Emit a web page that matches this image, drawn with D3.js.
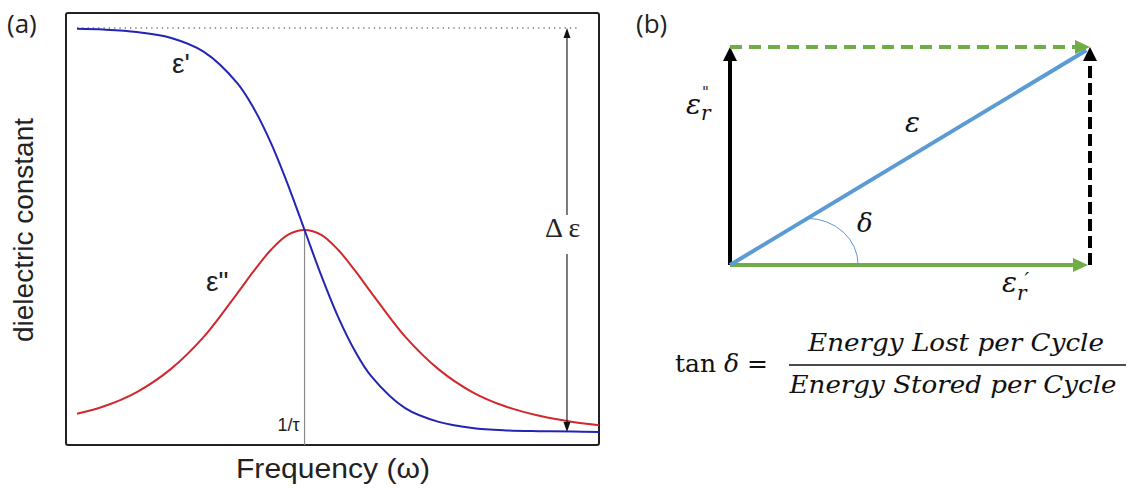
<!DOCTYPE html>
<html>
<head>
<meta charset="utf-8">
<script src="https://cdn.jsdelivr.net/npm/d3@7"></script>
<style>
  body { margin: 0; background: #fff; }
  svg { display: block; }
</style>
</head>
<body>
<div id="chart"></div>
<script>
// Panel (a): Debye relaxation
// x = log10(omega * tau), y = normalised dielectric constant
const logFreq = [-1.357, -1.2, -1.0, -0.8, -0.6, -0.4, -0.3, -0.2, -0.1, 0, 0.1, 0.2, 0.3, 0.4, 0.6, 0.8, 1.0, 1.2, 1.4, 1.6, 1.756];
const epsReal = [0.998, 0.996, 0.990, 0.976, 0.941, 0.863, 0.799, 0.715, 0.613, 0.5, 0.387, 0.285, 0.201, 0.137, 0.059, 0.025, 0.010, 0.004, 0.002, 0.001, 0.000];
const epsImag = [0.045, 0.063, 0.099, 0.155, 0.236, 0.344, 0.400, 0.451, 0.488, 0.5, 0.488, 0.451, 0.400, 0.344, 0.236, 0.155, 0.099, 0.063, 0.040, 0.025, 0.017];
const peakLog = 0;          // 1/tau
const deltaArrowLog = 1.565; // where the delta-epsilon arrow sits
const dottedEndLog = 1.625;

// Panel (b): complex permittivity phasor [eps_r', eps_r'']
const phasor = [1.0, 0.6];

// Texts
const panelLabels = ["(a)", "(b)"];
const axisTitles = ["Frequency (\u03c9)", "dielectric constant"];

const width = 1135, height = 491;

const svg = d3.select("#chart").append("svg")
    .attr("width", width)
    .attr("height", height);

const sans = "'Liberation Sans', Arial, sans-serif";

// ---------- panel (a) ----------
const a = svg.append("g");
const frame = { left: 66, top: 13, right: 599, bottom: 445 };

const x = d3.scaleLinear()
    .domain([logFreq[0], logFreq[logFreq.length - 1]])
    .range([77, 599]);

const y = d3.scaleLinear()
    .domain([0, 1])
    .range([432, 28]);

a.append("rect")
    .attr("x", frame.left)
    .attr("y", frame.top)
    .attr("width", frame.right - frame.left)
    .attr("height", frame.bottom - frame.top)
    .attr("rx", 2)
    .style("fill", "none")
    .style("stroke", "#222")
    .style("stroke-width", 2);

// dotted line at the static value
a.append("line")
    .attr("x1", x(logFreq[0]))
    .attr("x2", x(dottedEndLog))
    .attr("y1", y(1))
    .attr("y2", y(1))
    .style("stroke", "#777")
    .style("stroke-width", 1.3)
    .style("stroke-dasharray", "1.3,4");

// vertical line at 1/tau
a.append("line")
    .attr("x1", x(peakLog))
    .attr("x2", x(peakLog))
    .attr("y1", y(0.5))
    .attr("y2", frame.bottom)
    .style("stroke", "#8a8a8a")
    .style("stroke-width", 1.2);

const line = d3.line()
    .x((d, i) => x(logFreq[i]))
    .y(d => y(d))
    .curve(d3.curveCatmullRom);

a.append("path")
    .datum(epsImag)
    .attr("d", line)
    .style("fill", "none")
    .style("stroke", "#d0282c")
    .style("stroke-width", 2);

a.append("path")
    .datum(epsReal)
    .attr("d", line)
    .style("fill", "none")
    .style("stroke", "#2424b4")
    .style("stroke-width", 2);

// arrowhead helper: tip at (tx, ty), pointing along angle (radians)
function arrowHead(g, tx, ty, angle, len, half, color) {
    const c = Math.cos(angle), s = Math.sin(angle);
    const bx = tx - len * c, by = ty - len * s;
    g.append("path")
        .attr("d", `M${tx},${ty}L${bx - half * s},${by + half * c}L${bx + half * s},${by - half * c}Z`)
        .style("fill", color);
}

// delta-epsilon double arrow with a gap for the label
const ax = x(deltaArrowLog);
a.append("line")
    .attr("x1", ax).attr("x2", ax)
    .attr("y1", y(1) + 8).attr("y2", 215)
    .style("stroke", "#222").style("stroke-width", 1.2);
a.append("line")
    .attr("x1", ax).attr("x2", ax)
    .attr("y1", 254).attr("y2", y(0) - 8)
    .style("stroke", "#222").style("stroke-width", 1.2);
arrowHead(a, ax, y(1), -Math.PI / 2, 10, 3.5, "#111");
arrowHead(a, ax, y(0), Math.PI / 2, 10, 3.5, "#111");

a.append("text")
    .attr("x", ax - 22)
    .attr("y", 237)
    .style("font-family", "'Liberation Serif', serif")
    .style("font-size", "28px")
    .style("fill", "#222")
    .text("\u0394 \u03b5");

a.append("text")
    .attr("x", 172)
    .attr("y", 73)
    .style("font-family", sans)
    .style("font-size", "28px")
    .style("fill", "#222")
    .text("\u03b5'");

a.append("text")
    .attr("x", 206)
    .attr("y", 291)
    .style("font-family", sans)
    .style("font-size", "28px")
    .style("fill", "#222")
    .text("\u03b5\"");

a.append("text")
    .attr("x", x(peakLog) - 5)
    .attr("y", 431)
    .attr("text-anchor", "end")
    .style("font-family", sans)
    .style("font-size", "18px")
    .style("fill", "#222")
    .text("1/\u03c4");

a.append("text")
    .attr("x", 333)
    .attr("y", 478)
    .attr("text-anchor", "middle")
    .attr("textLength", 194)
    .attr("lengthAdjust", "spacingAndGlyphs")
    .style("font-family", sans)
    .style("font-size", "27px")
    .style("fill", "#222")
    .text(axisTitles[0]);

a.append("text")
    .attr("transform", "translate(33,230) rotate(-90)")
    .attr("text-anchor", "middle")
    .attr("textLength", 224)
    .attr("lengthAdjust", "spacingAndGlyphs")
    .style("font-family", sans)
    .style("font-size", "27px")
    .style("fill", "#222")
    .text(axisTitles[1]);

svg.selectAll(".panel-label")
    .data(panelLabels)
    .enter().append("text")
    .attr("class", "panel-label")
    .attr("x", (d, i) => i === 0 ? 7 : 636)
    .attr("y", 33)
    .style("font-family", "'Open Sans', 'Liberation Sans', sans-serif")
    .style("font-size", "26px")
    .style("fill", "#222")
    .text(d => d);

// ---------- panel (b) ----------
const b = svg.append("g");
const px = d3.scaleLinear().domain([0, phasor[0]]).range([730, 1090]);
const py = d3.scaleLinear().domain([0, phasor[1]]).range([265, 47]);

const green = "#70ad47", blue = "#5b9bd5", black = "#000";

// black imaginary arrow (left, solid)
b.append("line")
    .attr("x1", px(0)).attr("x2", px(0))
    .attr("y1", py(0)).attr("y2", py(phasor[1]) + 12)
    .style("stroke", black).style("stroke-width", 4);
arrowHead(b, px(0), py(phasor[1]), -Math.PI / 2, 14, 7, black);

// black imaginary arrow (right, dashed)
b.append("line")
    .attr("x1", px(phasor[0])).attr("x2", px(phasor[0]))
    .attr("y1", py(0)).attr("y2", py(phasor[1]) + 12)
    .style("stroke", black).style("stroke-width", 4)
    .style("stroke-dasharray", "12,5");
arrowHead(b, px(phasor[0]), py(phasor[1]), -Math.PI / 2, 14, 7, black);

// green real arrow (bottom, solid)
b.append("line")
    .attr("x1", px(0)).attr("x2", px(phasor[0]) - 14)
    .attr("y1", py(0)).attr("y2", py(0))
    .style("stroke", green).style("stroke-width", 4);
arrowHead(b, px(phasor[0]) - 2, py(0), 0, 15, 7, green);

// green real arrow (top, dashed)
b.append("line")
    .attr("x1", px(0)).attr("x2", px(phasor[0]) - 14)
    .attr("y1", py(phasor[1])).attr("y2", py(phasor[1]))
    .style("stroke", green).style("stroke-width", 4)
    .style("stroke-dasharray", "12,7");
arrowHead(b, px(phasor[0]), py(phasor[1]), 0, 15, 7, green);

// resultant epsilon
b.append("line")
    .attr("x1", px(0)).attr("y1", py(0))
    .attr("x2", px(phasor[0] * 0.99)).attr("y2", py(phasor[1] * 0.985))
    .style("stroke", blue).style("stroke-width", 4);

// angle arc (quarter ellipse from the epsilon line down to the axis)
const arcFrom = 0.214, arcTo = 0.356;
const sx = px(arcFrom), sy = py(arcFrom * phasor[1] / phasor[0]);
const ex = px(arcTo), ey = py(0);
b.append("path")
    .attr("d", `M${sx},${sy}A${ex - sx},${ey - sy} 0 0,1 ${ex},${ey}`)
    .style("fill", "none")
    .style("stroke", blue)
    .style("stroke-width", 1);

const mathFont = "'DejaVu Serif', 'Liberation Serif', serif";

b.append("text")
    .attr("x", 905).attr("y", 132)
    .style("font-family", mathFont).style("font-style", "italic")
    .style("font-size", "28px").style("fill", "#111")
    .text("\u03b5");

b.append("text")
    .attr("x", 857).attr("y", 232)
    .style("font-family", mathFont).style("font-style", "italic")
    .style("font-size", "26px").style("fill", "#111")
    .text("\u03b4");

// eps_r'' : epsilon, double prime above, r below
const tl = b.append("text")
    .attr("x", 686).attr("y", 114)
    .style("font-family", mathFont).style("font-style", "italic")
    .style("font-size", "28px").style("fill", "#111");
tl.append("tspan").text("\u03b5");
tl.append("tspan").attr("dx", 1).attr("dy", -17).style("font-style", "normal").style("font-size", "15px").text("\"");
tl.append("tspan").attr("dx", -8).attr("dy", 23).style("font-size", "20px").text("r");

// eps_r' : epsilon, r below, prime raised just after it
const tr = b.append("text")
    .attr("x", 1002).attr("y", 292)
    .style("font-family", mathFont).style("font-style", "italic")
    .style("font-size", "28px").style("fill", "#111");
tr.append("tspan").text("\u03b5");
tr.append("tspan").attr("dy", 8).style("font-size", "20px").text("r");
tr.append("tspan").attr("dx", -2).attr("dy", -13).style("font-size", "20px").text("\u2032");

// tan delta formula
const lhs = b.append("text")
    .attr("x", 675).attr("y", 372)
    .style("font-family", mathFont)
    .style("font-size", "25px").style("fill", "#111");
lhs.append("tspan").text("tan ");
lhs.append("tspan").style("font-style", "italic").text("\u03b4");
lhs.append("tspan").text(" =");

b.append("text")
    .attr("x", 956).attr("y", 351)
    .attr("text-anchor", "middle")
    .attr("textLength", 296)
    .attr("lengthAdjust", "spacingAndGlyphs")
    .style("font-family", mathFont).style("font-style", "italic")
    .style("font-size", "24px").style("fill", "#111")
    .text("Energy Lost per Cycle");

b.append("line")
    .attr("x1", 789).attr("x2", 1126)
    .attr("y1", 365).attr("y2", 365)
    .style("stroke", "#111").style("stroke-width", 1.6);

b.append("text")
    .attr("x", 953).attr("y", 393)
    .attr("text-anchor", "middle")
    .attr("textLength", 327)
    .attr("lengthAdjust", "spacingAndGlyphs")
    .style("font-family", mathFont).style("font-style", "italic")
    .style("font-size", "24px").style("fill", "#111")
    .text("Energy Stored per Cycle");
</script>
</body>
</html>
